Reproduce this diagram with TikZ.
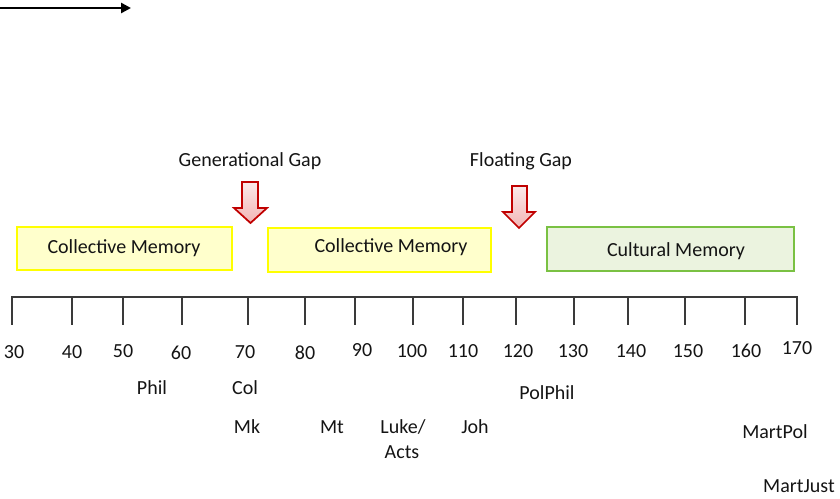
\documentclass[tikz,border=0pt]{standalone}
\usepackage{fontspec}
\setmainfont{Carlito}
\usetikzlibrary{arrows.meta}
\definecolor{txt}{HTML}{141414}
\definecolor{axisc}{HTML}{3A3A3A}
\definecolor{cmfill}{HTML}{FFFFCC}
\definecolor{cmdraw}{HTML}{FFFF00}
\definecolor{cufill}{HTML}{EBF3DF}
\definecolor{cudraw}{HTML}{7AC143}
\definecolor{gapdraw}{HTML}{C00000}
\definecolor{gaptop}{HTML}{FBE9E9}
\definecolor{gapbot}{HTML}{F2B5B5}
\begin{document}
\begin{tikzpicture}[x=0.75pt,y=-0.75pt,
  lbl/.style={font=\fontsize{15}{17}\selectfont, text=txt, inner sep=0pt},
  cmbox/.style={draw=cmdraw, fill=cmfill, line width=1.8pt, inner sep=0pt},
  cubox/.style={draw=cudraw, fill=cufill, line width=1.8pt, inner sep=0pt},
  gaparrow/.style={draw=gapdraw, line width=1.3pt, line join=miter, top color=gaptop, bottom color=gapbot},
  axisline/.style={draw=axisc, line width=1.3pt},
  tickline/.style={draw=axisc, line width=1.2pt}]
\useasboundingbox (0,0) rectangle (840,499);

% top arrow
\coordinate (ta0) at (0,8);
\coordinate (ta1) at (131,8);
\draw[line width=2.1pt, -{Triangle[length=7.5pt,width=7.5pt]}] (ta0) -- (ta1);

% gap labels
\node[lbl] (gg) at (250,161) {Generational Gap};
\node[lbl] (fg) at (521,161) {Floating Gap};

% gap arrows
\path[gaparrow] (242,182) -- (258,182) -- (258,208) -- (267,208) -- (250.5,223) -- (234,208) -- (242,208) -- cycle;
\path[gaparrow] (512,186) -- (527,186) -- (527,212) -- (535,212) -- (519,228) -- (503,212) -- (512,212) -- cycle;

% memory boxes
\node[cmbox, minimum width=161.25pt, minimum height=32.25pt] (b1) at (124.5,248.5) {};
\node[cmbox, minimum width=167.25pt, minimum height=33pt] (b2) at (379.5,250) {};
\node[cubox, minimum width=185.25pt, minimum height=33pt] (b3) at (670.5,249) {};
\node[lbl] (t1) at (124,248) {Collective Memory};
\node[lbl] (t2) at (391,247) {Collective Memory};
\node[lbl] (t3) at (676,251) {Cultural Memory};

% axis
\coordinate (ax0) at (11,297);
\coordinate (ax1) at (798,297);
\draw[axisline] (ax0) -- (ax1);
\foreach \x [count=\i] in {12,72,123,182,248,305,355,413,463,516,574,628,685,745,797}{
  \coordinate (tk\i) at (\x,297);
  \coordinate (tb\i) at (\x,325);
  \draw[tickline] (tk\i) -- (tb\i);
}
% numbers
\foreach \x/\y/\t [count=\i] in {14/352/30,72/352/40,123/351/50,181/353/60,245/352/70,305/353/80,362/350/90,412/351/100,463/351/110,518/351/120,573/351/130,631/351/140,688/351/150,746/351/160,797/348/170}{
  \node[lbl] (n\i) at (\x,\y) {\t};
}

% documents
\node[lbl] (phil) at (152,388) {Phil};
\node[lbl] (col) at (245,388) {Col};
\node[lbl] (mk) at (247,427) {Mk};
\node[lbl] (mt) at (332,427) {Mt};
\node[lbl] (luke) at (403,427) {Luke/};
\node[lbl] (acts) at (402,452) {Acts};
\node[lbl] (joh) at (475,427) {Joh};
\node[lbl] (polphil) at (547,393) {PolPhil};
\node[lbl] (martpol) at (775,432) {MartPol};
\node[lbl] (martjust) at (799,486) {MartJust};
\end{tikzpicture}
\end{document}
